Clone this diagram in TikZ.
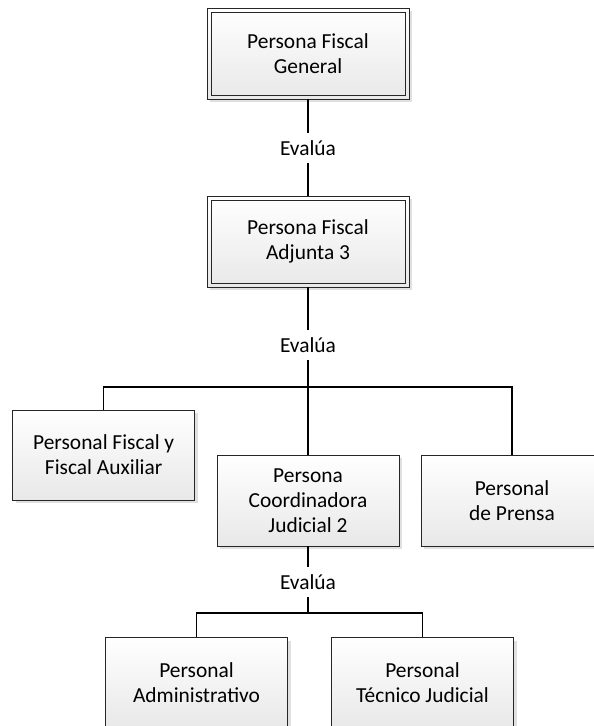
\documentclass[tikz,border=0pt]{standalone}
\usepackage{fontspec}
\setmainfont{Carlito}
\usetikzlibrary{shadows, positioning}
\definecolor{boxgray}{RGB}{232, 232, 232}

\begin{document}
\begin{tikzpicture}[x=1bp, y=-1bp,
    orgbox/.style={draw=black!85, line width=0.8bp, top color=white, bottom color=boxgray,
      drop shadow={shadow xshift=3bp, shadow yshift=-3bp, fill=black!12, opacity=1},
      align=center, inner sep=2bp, font=\fontsize{21.5}{25}\selectfont,
      minimum width=182bp, minimum height=91bp},
    headbox/.style={orgbox, minimum width=202bp, minimum height=91bp,
      path picture={\draw[black!85, line width=0.8bp]
        ([shift={(4bp,-4bp)}]path picture bounding box.north west) rectangle
        ([shift={(-4bp,4bp)}]path picture bounding box.south east);}},
    rel/.style={inner sep=7bp, font=\fontsize{21.5}{25}\selectfont},
    link/.style={line width=1.5bp, black}]
  \useasboundingbox (0,0) rectangle (594,726);
  \node[headbox] (gen) at (308,53.5) {Persona Fiscal\\General};
  \node[rel] (ev1) at (308,148) {Evalúa};
  \node[headbox] (adj) at (308,241.5) {Persona Fiscal\\Adjunta 3};
  \node[rel] (ev2) at (308,345) {Evalúa};
  \coordinate (j1) at (308,387);
  \node[orgbox, minimum height=90bp] (pfa) at (103.7,455) {Personal Fiscal y\\Fiscal Auxiliar};
  \node[orgbox] (pcj) at (308,500.5) {Persona\\Coordinadora\\Judicial 2};
  \node[orgbox] (pre) at (512,500.5) {Personal\\de Prensa};
  \node[rel] (ev3) at (308,582) {Evalúa};
  \coordinate (j2) at (308,613);
  \node[orgbox] (adm) at (196.5,683) {Personal\\Administrativo};
  \node[orgbox] (tec) at (422.5,683) {Personal\\Técnico Judicial};
  \draw[link] (gen) -- (ev1) -- (adj);
  \draw[link] (adj) -- (ev2) -- (j1);
  \draw[link] (pfa) |- (j1) -| (pre);
  \draw[link] (j1) -- (pcj);
  \draw[link] (pcj) -- (ev3) -- (j2);
  \draw[link] (adm) |- (j2) -| (tec);
\end{tikzpicture}
\end{document}
